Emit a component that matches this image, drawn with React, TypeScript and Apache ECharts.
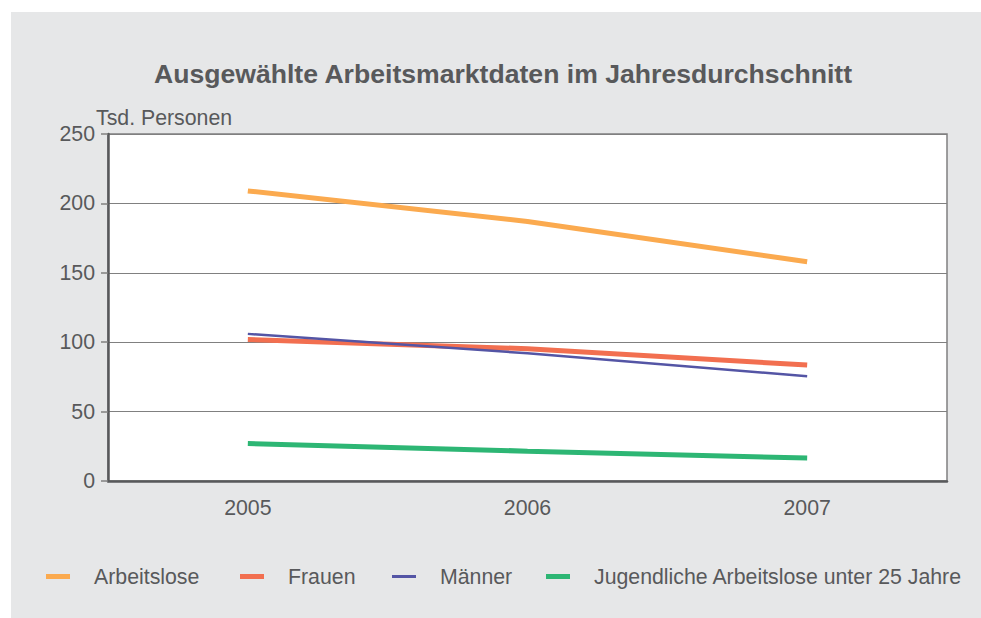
import React, { useEffect, useRef } from "react";
import * as echarts from "echarts";

const years = ["2005", "2006", "2007"];
const arbeitslose = [209, 187, 158];
const frauen = [102, 95.3, 83.5];
const maenner = [106, 92, 75.5];
const jugendliche = [27, 21.5, 16.5];
const seriesNames = ["Arbeitslose", "Frauen", "Männer", "Jugendliche Arbeitslose unter 25 Jahre"];
const seriesColors = ["#fbaa4f", "#f26f50", "#5455a5", "#2db674"];
const yTicks = { min: 0, max: 250, interval: 50 };

const FONT = "'Liberation Sans', Arial, sans-serif";
const TXT = "#58595b";
const FS = 21.3;

export default function App() {
  const ref = useRef<HTMLDivElement>(null);
  useEffect(() => {
    if (!ref.current) return;
    const chart = echarts.init(ref.current, null, { renderer: "svg" });
    const values = [arbeitslose, frauen, maenner, jugendliche];
    const widths = [5, 5, 2.5, 5];
    const legendLeft = [46, 240, 392, 546];
    const legendH = [5, 5, 3, 5];
    chart.setOption({
      animation: false,
      textStyle: { fontFamily: FONT },
      graphic: [
        {
          type: "rect",
          shape: { x: 11, y: 12, width: 970, height: 606 },
          style: { fill: "#e6e7e8" },
          z: -10,
          silent: true,
        },
        {
          type: "text",
          x: 96,
          y: 118,
          style: {
            text: "Tsd. Personen",
            fill: TXT,
            font: `${FS}px ${FONT}`,
            verticalAlign: "middle",
          },
        },
      ],
      title: {
        text: "Ausgewählte Arbeitsmarktdaten im Jahresdurchschnitt",
        left: 503,
        textAlign: "center",
        top: 60,
        padding: 0,
        textStyle: { fontFamily: FONT, fontSize: 26.6, fontWeight: "bold", color: TXT },
      },
      legend: seriesNames.map((n, i) => ({
        data: [n],
        left: legendLeft[i],
        top: 566,
        padding: 0,
        icon: "rect",
        itemWidth: 24,
        itemHeight: legendH[i],
        textStyle: { fontFamily: FONT, fontSize: FS, color: TXT, padding: [0, 0, 0, 19] },
      })),
      grid: {
        left: 108,
        top: 134,
        right: 34,
        bottom: 137,
        show: true,
        backgroundColor: "#ffffff",
        borderColor: "#808080",
        borderWidth: 1.5,
      },
      xAxis: {
        type: "category",
        data: years,
        boundaryGap: true,
        axisLine: { lineStyle: { color: TXT, width: 2.5 } },
        axisTick: { show: false },
        axisLabel: { color: TXT, fontSize: FS, fontFamily: FONT, margin: 16 },
        splitLine: { show: false },
      },
      yAxis: {
        type: "value",
        min: yTicks.min,
        max: yTicks.max,
        interval: yTicks.interval,
        axisLine: { show: true, lineStyle: { color: TXT, width: 2.5 } },
        axisTick: { show: true, length: 7, lineStyle: { color: "#808080", width: 1.5 } },
        axisLabel: { color: TXT, fontSize: FS, fontFamily: FONT, margin: 13 },
        splitLine: { show: true, lineStyle: { color: "#808080", width: 1 } },
      },
      series: seriesNames.map((n, i) => ({
        name: n,
        type: "line",
        data: values[i],
        showSymbol: false,
        symbol: "none",
        color: seriesColors[i],
        lineStyle: { color: seriesColors[i], width: widths[i] },
      })),
    });
    return () => chart.dispose();
  }, []);
  return (
    <div
      ref={ref}
      style={{ position: "absolute", left: 0, top: 0, width: 981, height: 618 }}
    />
  );
}
